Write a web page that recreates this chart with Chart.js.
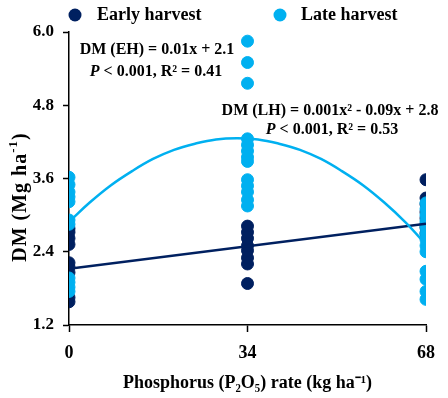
<!DOCTYPE html>
<html>
<head>
<meta charset="utf-8">
<script src="https://cdn.jsdelivr.net/npm/chart.js@4.4.1/dist/chart.umd.min.js"></script>
<style>
  html, body { margin: 0; padding: 0; background: #fff; }
</style>
</head>
<body>
<canvas id="myChart" width="448" height="398"></canvas>
<script>
const xTicks = [0, 34, 68]
const yTicks = [1.2, 2.4, 3.6, 4.8, 6.0]
const seriesNames = ['Early harvest', 'Late harvest']
const colors = ['#002060', '#00b0f0']

// DM values, grouped by P rate (0, 34, 68)
const early0 = [1.58, 1.65, 2.06, 2.15, 2.22, 2.52, 2.62, 2.72, 2.78]
const early34 = [1.88, 2.2, 2.3, 2.42, 2.5, 2.62, 2.72, 2.82]
const early68 = [2.7, 2.8, 2.85, 2.95, 3.05, 3.18, 3.28, 3.58]
const late0 = [1.75, 1.82, 1.9, 1.97, 2.85, 2.92, 3.22, 3.3, 3.38, 3.5, 3.62]
const late34 = [3.15, 3.25, 3.38, 3.48, 3.58, 3.88, 3.95, 4.05, 4.15, 4.25, 5.16, 5.5, 5.85]
const late68 = [1.62, 1.75, 1.95, 2.08, 2.4, 2.5, 2.6, 2.7, 2.8, 2.9, 3.0, 3.1, 3.2]

// fitted lines as drawn in the figure
const ehFitX = [0, 68]
const ehFitY = [2.12, 2.86]
const lhFitX = [0, 4, 8, 12, 16, 20, 24, 28, 32, 36, 40, 44, 48, 52, 56, 60, 64, 68]
const lhFitY = [2.89, 3.21, 3.49, 3.72, 3.92, 4.07, 4.17, 4.24, 4.26, 4.24, 4.17, 4.07, 3.92, 3.72, 3.49, 3.21, 2.89, 2.52]

const FONT = '"Liberation Serif", "Times New Roman", serif'

function toPoints(groups){
    const pts = []
    groups.forEach((vals, i) => vals.forEach(v => pts.push({x: xTicks[i], y: v})))
    return pts
}
function zip(xs, ys){
    return xs.map((x, i) => ({x, y: ys[i]}))
}

// draw a line of text made of plain / italic / superscript parts, centred on cx
function drawRuns(ctx, runs, cx, y, size){
    const fontOf = r => `${r.italic ? 'italic ' : ''}bold ${r.sup ? Math.round(size * 0.65) : size}px ${FONT}`
    let total = 0
    runs.forEach(r => { ctx.font = fontOf(r); total += ctx.measureText(r.t).width })
    let x = cx - total / 2
    runs.forEach(r => {
        ctx.font = fontOf(r)
        ctx.fillText(r.t, x, r.sup ? y - size * 0.35 : y)
        x += ctx.measureText(r.t).width
    })
}

const figText = {
    id: 'figText',
    afterDraw(chart){
        const ctx = chart.ctx
        ctx.save()
        ctx.fillStyle = '#000'
        ctx.textAlign = 'left'
        ctx.textBaseline = 'middle'

        // legend
        const legend = [[75, 97], [280, 301]]
        legend.forEach(([cx, tx], i) => {
            ctx.beginPath()
            ctx.fillStyle = colors[i]
            ctx.arc(cx, 15, 6.5, 0, Math.PI * 2)
            ctx.fill()
            ctx.fillStyle = '#000'
            ctx.font = `bold 18px ${FONT}`
            ctx.fillText(seriesNames[i], tx, 15)
        })

        // regression labels
        drawRuns(ctx, [{t: 'DM (EH) = 0.01x + 2.1'}], 157, 50, 16)
        drawRuns(ctx, [{t: 'P', italic: true}, {t: ' < 0.001, R² = 0.41'}], 156, 72, 16)
        drawRuns(ctx, [{t: 'DM (LH) = 0.001x² - 0.09x + 2.8'}], 330, 111, 16)
        drawRuns(ctx, [{t: 'P', italic: true}, {t: ' < 0.001, R² = 0.53'}], 332, 130, 16)

        // y axis title
        ctx.translate(21, 197)
        ctx.rotate(-Math.PI / 2)
        ctx.letterSpacing = '1px'
        drawRuns(ctx, [{t: 'DM (Mg ha'}, {t: '-1', sup: true}, {t: ')'}], 0, 0, 20)
        ctx.restore()
    }
}

const ctx = document.getElementById('myChart')
new Chart(ctx, {
    type: 'scatter',
    data: {
        datasets: [{
            label: seriesNames[0],
            data: toPoints([early0, early34, early68]),
            backgroundColor: colors[0],
            borderColor: colors[0],
            pointRadius: 6,
            pointHoverRadius: 6,
            order: 3
        }, {
            label: seriesNames[1],
            data: toPoints([late0, late34, late68]),
            backgroundColor: colors[1],
            borderColor: colors[1],
            pointRadius: 6,
            pointHoverRadius: 6,
            order: 2
        }, {
            label: 'EH fit',
            data: zip(ehFitX, ehFitY),
            showLine: true,
            borderColor: colors[0],
            borderWidth: 2.5,
            pointRadius: 0,
            order: 1
        }, {
            label: 'LH fit',
            data: zip(lhFitX, lhFitY),
            showLine: true,
            tension: 0.4,
            borderColor: colors[1],
            borderWidth: 2.5,
            pointRadius: 0,
            order: 0
        }]
    },
    options: {
        responsive: false,
        animation: false,
        layout: { padding: { top: 32, right: 22, left: 0, bottom: 0 } },
        plugins: {
            legend: { display: false },
            tooltip: { enabled: false }
        },
        scales: {
            x: {
                type: 'linear',
                min: 0,
                max: 68,
                afterBuildTicks: scale => { scale.ticks = xTicks.map(value => ({value})) },
                afterFit: scale => { scale.height = 73 },
                grid: { drawOnChartArea: false, color: '#000', tickLength: 7, tickWidth: 1.5 },
                border: { color: '#000', width: 1.5 },
                ticks: {
                    color: '#000',
                    padding: 11,
                    font: { family: FONT, size: 18, weight: 'bold' }
                },
                title: {
                    display: true,
                    text: 'Phosphorus (P₂O₅) rate (kg ha⁻¹)',
                    color: '#000',
                    padding: { top: 2 },
                    font: { family: FONT, size: 18, weight: 'bold' }
                }
            },
            y: {
                min: 1.2,
                max: 6.0,
                afterBuildTicks: scale => { scale.ticks = yTicks.map(value => ({value})) },
                afterFit: scale => { scale.width = 69 },
                grid: { drawOnChartArea: false, color: '#000', tickLength: 6, tickWidth: 1.5 },
                border: { color: '#000', width: 1.5 },
                ticks: {
                    color: '#000',
                    padding: 9,
                    callback: v => v.toFixed(1),
                    font: { family: FONT, size: 17, weight: 'bold' }
                }
            }
        }
    },
    plugins: [figText]
})
</script>
</body>
</html>
